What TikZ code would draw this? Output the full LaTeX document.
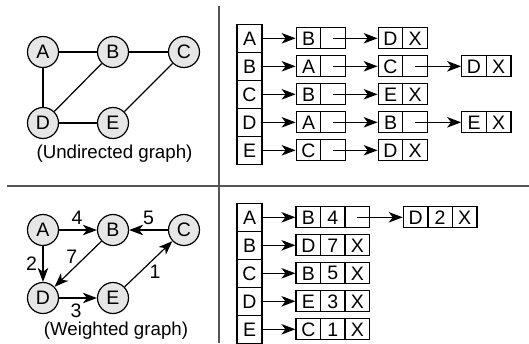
\documentclass[tikz,border=0pt]{standalone}
\usepackage{fontspec}
\setmainfont{Liberation Sans}
\usetikzlibrary{arrows.meta}
\definecolor{nodegray}{RGB}{230,230,230}
\definecolor{sepgray}{RGB}{85,85,85}
\begin{document}
\begin{tikzpicture}[x=1pt,y=-1pt,
  vert/.style={circle,draw,fill=nodegray,minimum size=31pt,inner sep=0pt,line width=1.2pt},
  cell/.style={draw,minimum width=24.6pt,minimum height=21pt,inner sep=0pt,line width=1.2pt},
  headcell/.style={draw,minimum width=25pt,minimum height=28pt,inner sep=0pt,line width=1.3pt},
  ptr/.style={-{Stealth[length=14pt,width=10.5pt,inset=4pt]},line width=1.2pt},
  edge/.style={line width=1.2pt},
  sepline/.style={line width=2pt,draw=sepgray},
  lbl/.style={inner sep=0pt},
  capfont/.style={font=\fontsize{18.7}{22}\selectfont},
  font=\fontsize{19.5}{22}\selectfont]
\useasboundingbox (0,0) rectangle (529,343);
% separators
\coordinate (vt) at (219,6);
\coordinate (vb) at (219,343);
\coordinate (hl) at (7,186);
\coordinate (hr) at (529,186);
\draw[sepline] (vt) -- (vb);
\draw[sepline] (hl) -- (hr);
% undirected graph
\node[vert] (uA) at (43,52) {A};
\node[vert] (uB) at (113,52) {B};
\node[vert] (uC) at (184,52) {C};
\node[vert] (uD) at (43,123) {D};
\node[vert] (uE) at (113,123) {E};
\draw[edge] (uA) -- (uB);
\draw[edge] (uB) -- (uC);
\draw[edge] (uA) -- (uD);
\draw[edge] (uB) -- (uD);
\draw[edge] (uD) -- (uE);
\draw[edge] (uE) -- (uC);
\node[lbl,capfont] (ucap) at (114.5,153.5) {(Undirected graph)};
% top adjacency list
\foreach \n/\y in {A/38.3,B/66.3,C/94.3,D/122.3,E/150.3}{
  \node[headcell] (h\n) at (249.5,\y) {\n};
}
% row A
\node[cell] (a1) at (308.5,38.3) {B};
\node[cell] (a2) at (333.1,38.3) {};
\node[cell] (a3) at (390.5,38.3) {D};
\node[cell] (a4) at (415.1,38.3) {X};
\draw[ptr] (hA.east) -- (a1.west);
\draw[ptr] (a2.center) -- (a3.west);
% row B
\node[cell] (b1) at (308.5,66.3) {A};
\node[cell] (b2) at (333.1,66.3) {};
\node[cell] (b3) at (390.5,66.3) {C};
\node[cell] (b4) at (415.1,66.3) {};
\node[cell] (b5) at (474,66.3) {D};
\node[cell] (b6) at (498.6,66.3) {X};
\draw[ptr] (hB.east) -- (b1.west);
\draw[ptr] (b2.center) -- (b3.west);
\draw[ptr] (b4.center) -- (b5.west);
% row C
\node[cell] (c1) at (308.5,94.3) {B};
\node[cell] (c2) at (333.1,94.3) {};
\node[cell] (c3) at (390.5,94.3) {E};
\node[cell] (c4) at (415.1,94.3) {X};
\draw[ptr] (hC.east) -- (c1.west);
\draw[ptr] (c2.center) -- (c3.west);
% row D
\node[cell] (d1) at (308.5,122.3) {A};
\node[cell] (d2) at (333.1,122.3) {};
\node[cell] (d3) at (390.5,122.3) {B};
\node[cell] (d4) at (415.1,122.3) {};
\node[cell] (d5) at (474,122.3) {E};
\node[cell] (d6) at (498.6,122.3) {X};
\draw[ptr] (hD.east) -- (d1.west);
\draw[ptr] (d2.center) -- (d3.west);
\draw[ptr] (d4.center) -- (d5.west);
% row E
\node[cell] (e1) at (308.5,150.3) {C};
\node[cell] (e2) at (333.1,150.3) {};
\node[cell] (e3) at (390.5,150.3) {D};
\node[cell] (e4) at (415.1,150.3) {X};
\draw[ptr] (hE.east) -- (e1.west);
\draw[ptr] (e2.center) -- (e3.west);
% weighted graph
\node[vert] (wA) at (43,230) {A};
\node[vert] (wB) at (113,230) {B};
\node[vert] (wC) at (184,230) {C};
\node[vert] (wD) at (43,298) {D};
\node[vert] (wE) at (113,298) {E};
\draw[ptr] (wA) -- (wB);
\draw[ptr] (wC) -- (wB);
\draw[ptr] (wA) -- (wD);
\draw[ptr] (wB) -- (wD);
\draw[ptr] (wD) -- (wE);
\draw[ptr] (wE) -- (wC);
\node[lbl] (w4) at (77,218) {4};
\node[lbl] (w5) at (148.5,218) {5};
\node[lbl] (w7) at (71.7,256.5) {7};
\node[lbl] (w2) at (31.5,264) {2};
\node[lbl] (w1) at (155,271.5) {1};
\node[lbl] (w3) at (76,311) {3};
\node[lbl,capfont] (wcap) at (116,331) {(Weighted graph)};
% bottom adjacency list
\foreach \n/\y in {A/217.3,B/245.3,C/273.3,D/301.3,E/329.3}{
  \node[headcell] (k\n) at (249.5,\y) {\n};
}
\node[cell] (p1) at (308.3,217.3) {B};
\node[cell] (p2) at (332.8,217.3) {4};
\node[cell] (p3) at (357.3,217.3) {};
\node[cell] (p4) at (415.6,217.3) {D};
\node[cell] (p5) at (440.1,217.3) {2};
\node[cell] (p6) at (464.6,217.3) {X};
\draw[ptr] (kA.east) -- (p1.west);
\draw[ptr] (p3.center) -- (p4.west);
\node[cell] (q1) at (308.3,245.3) {D};
\node[cell] (q2) at (332.8,245.3) {7};
\node[cell] (q3) at (357.3,245.3) {X};
\draw[ptr] (kB.east) -- (q1.west);
\node[cell] (r1) at (308.3,273.3) {B};
\node[cell] (r2) at (332.8,273.3) {5};
\node[cell] (r3) at (357.3,273.3) {X};
\draw[ptr] (kC.east) -- (r1.west);
\node[cell] (s1) at (308.3,301.3) {E};
\node[cell] (s2) at (332.8,301.3) {3};
\node[cell] (s3) at (357.3,301.3) {X};
\draw[ptr] (kD.east) -- (s1.west);
\node[cell] (t1) at (308.3,329.3) {C};
\node[cell] (t2) at (332.8,329.3) {1};
\node[cell] (t3) at (357.3,329.3) {X};
\draw[ptr] (kE.east) -- (t1.west);
\end{tikzpicture}
\end{document}
